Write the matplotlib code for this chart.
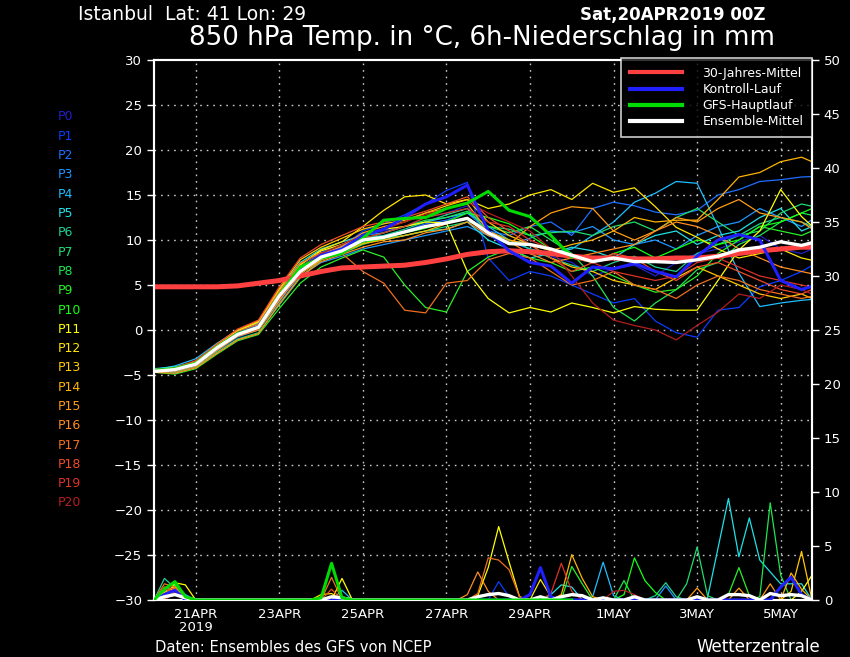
import matplotlib
matplotlib.use("Agg")
import matplotlib.pyplot as plt
from matplotlib.lines import Line2D

# ---------------- data ----------------
HOURS_T = list(range(0, 385, 12))      # temperature every 12h
HOURS_P = list(range(0, 385, 6))       # precipitation every 6h
HOURS_GFS = list(range(0, 241, 12))

TICK_HOURS = [24, 72, 120, 168, 216, 264, 312, 360]
TICK_LABELS = ["21APR\n2019", "23APR", "25APR", "27APR", "29APR", "1MAY", "3MAY", "5MAY"]

MEMBER_NAMES = ["P%d" % i for i in range(21)]
MEMBER_COLORS = ["#2020c8", "#0a3cff", "#1e6eff", "#1e96ff", "#1ebeff", "#1ee1e6",
                 "#1ed296", "#1edc6e", "#1ee650", "#28f028", "#14ff14", "#ffff00",
                 "#ffe600", "#ffc800", "#ffb400", "#ff9b14", "#ff8c1e", "#f06e1e",
                 "#f04b28", "#dc3228", "#b41e1e"]

P0_T = [-4.5, -4.6, -3.9, -2.2, -0.4, 0.5, 3.5, 6.8, 8.5, 9.5, 10.8, 11.0, 11.5, 12.5, 13.0, 13.8, 11.0, 9.8, 9.0, 8.2, 7.5, 6.0, 6.8, 7.2, 6.0, 7.5, 8.5, 9.0, 9.8, 10.5, 9.0, 8.5, 9.5]
P1_T = [-4.4, -4.8, -4.0, -2.4, -0.8, 0.0, 3.0, 6.2, 8.0, 9.2, 11.0, 11.8, 12.8, 14.0, 15.5, 16.4, 8.0, 5.5, 6.5, 6.0, 5.0, 4.0, 3.0, 3.5, 1.0, -0.3, -0.8, 2.2, 2.5, 4.8, 5.5, 6.5, 7.8]
P2_T = [-4.6, -4.2, -3.5, -1.8, -0.2, 0.8, 4.2, 7.0, 8.6, 9.5, 10.2, 10.5, 11.0, 11.8, 12.2, 13.0, 11.0, 10.5, 11.5, 12.0, 10.5, 13.5, 14.2, 13.8, 13.1, 12.8, 13.3, 15.0, 15.6, 16.5, 16.7, 17.0, 17.1]
P3_T = [-4.7, -4.5, -4.0, -2.3, -0.6, 0.2, 3.6, 6.0, 7.5, 8.2, 9.0, 9.5, 10.0, 10.5, 11.0, 11.5, 10.5, 9.5, 10.2, 11.0, 10.8, 11.5, 10.0, 9.5, 10.0, 9.0, 10.5, 11.5, 12.0, 13.5, 12.5, 11.5, 13.0]
P4_T = [-4.4, -4.0, -3.2, -1.5, 0.0, 0.8, 4.0, 6.8, 8.4, 9.2, 10.5, 10.8, 11.5, 12.0, 12.5, 13.0, 11.5, 10.0, 9.0, 8.5, 9.0, 10.5, 12.0, 14.2, 15.2, 16.5, 16.3, 11.5, 6.3, 2.6, 3.0, 3.3, 3.5]
P5_T = [-4.3, -4.1, -3.6, -1.9, -0.3, 0.6, 4.5, 7.5, 9.0, 9.8, 10.5, 10.0, 10.5, 11.0, 11.2, 12.0, 10.0, 9.0, 8.0, 8.5, 9.2, 8.8, 8.0, 9.5, 10.5, 11.0, 9.5, 10.5, 11.0, 12.5, 13.5, 11.0, 12.0]
P6_T = [-4.5, -4.5, -3.9, -2.1, -0.7, 0.0, 3.2, 6.4, 8.2, 9.0, 10.0, 10.5, 11.2, 12.0, 12.8, 13.5, 10.8, 10.0, 9.0, 8.0, 7.2, 6.5, 7.5, 8.2, 7.0, 6.5, 8.5, 9.5, 10.5, 11.8, 12.5, 12.0, 11.0]
P7_T = [-4.6, -4.7, -4.1, -2.5, -1.0, -0.3, 2.8, 5.8, 7.8, 8.5, 9.5, 10.2, 10.5, 11.0, 11.5, 12.0, 11.5, 11.2, 10.5, 10.8, 11.0, 10.5, 11.5, 12.0, 11.0, 12.5, 13.5, 12.0, 10.5, 11.0, 13.0, 14.0, 13.5]
P8_T = [-4.4, -4.3, -3.7, -1.8, -0.4, 0.5, 3.9, 6.7, 8.3, 9.0, 10.0, 10.8, 11.5, 12.2, 12.5, 13.2, 11.5, 10.8, 11.5, 10.0, 8.5, 6.0, 2.5, 1.0, 3.0, 4.5, 6.7, 7.5, 9.5, 10.5, 12.0, 13.0, 12.5]
P9_T = [-4.7, -4.9, -4.3, -2.7, -1.2, -0.5, 2.4, 5.2, 7.0, 8.0, 8.9, 8.1, 5.0, 2.5, 2.0, 6.5, 8.1, 9.0, 8.0, 7.5, 6.5, 7.0, 6.0, 5.0, 4.2, 4.5, 6.0, 8.5, 10.0, 11.5, 11.0, 10.5, 11.5]
P10_T = [-4.5, -4.4, -3.8, -2.0, -0.5, 0.4, 3.7, 6.6, 8.0, 8.7, 9.7, 10.2, 10.8, 11.3, 12.0, 13.0, 12.5, 11.8, 10.5, 9.0, 8.0, 7.5, 8.5, 9.2, 8.0, 9.0, 10.0, 9.5, 10.0, 11.5, 12.0, 13.0, 14.0]
P11_T = [-4.6, -4.4, -3.6, -1.7, -0.1, 0.9, 4.4, 7.3, 8.8, 9.5, 10.5, 11.2, 11.5, 12.0, 11.9, 6.5, 3.5, 1.9, 2.5, 2.0, 3.0, 2.5, 1.9, 2.6, 2.3, 2.2, 2.2, 5.5, 8.9, 11.0, 15.6, 12.6, 10.5]
P12_T = [-4.5, -4.3, -3.7, -1.9, -0.3, 0.6, 4.1, 7.2, 8.9, 9.8, 11.5, 13.3, 14.8, 15.0, 14.0, 14.5, 13.5, 14.0, 15.0, 15.6, 14.5, 16.3, 15.3, 15.8, 13.7, 11.4, 10.3, 9.0, 8.0, 8.5, 9.0, 8.0, 7.5]
P13_T = [-4.4, -4.2, -3.5, -1.6, 0.0, 1.0, 4.6, 7.8, 9.2, 10.2, 11.2, 11.8, 12.2, 13.0, 13.8, 14.5, 12.0, 10.5, 9.5, 8.0, 7.0, 6.5, 5.5, 5.0, 4.5, 5.8, 7.0, 6.0, 5.0, 4.0, 3.5, 4.0, 3.0]
P14_T = [-4.6, -4.5, -3.9, -2.2, -0.6, 0.2, 3.4, 6.2, 7.8, 8.6, 9.6, 10.0, 10.5, 11.0, 11.8, 12.5, 11.0, 10.0, 9.5, 8.8, 9.5, 10.0, 11.0, 12.5, 12.0, 12.2, 12.2, 14.5, 17.0, 17.5, 18.7, 19.2, 18.2]
P15_T = [-4.5, -4.6, -4.0, -2.3, -0.7, 0.0, 3.3, 6.5, 8.4, 9.3, 10.8, 11.5, 12.0, 13.0, 13.5, 14.0, 11.0, 9.5, 11.5, 13.0, 13.7, 13.5, 11.0, 10.0, 11.0, 12.5, 12.0, 13.5, 14.5, 13.0, 12.5, 12.0, 10.5]
P16_T = [-4.7, -4.8, -4.2, -2.6, -1.1, -0.4, 2.9, 5.9, 7.6, 8.4, 9.2, 9.8, 10.0, 10.8, 11.2, 12.0, 10.5, 9.8, 8.5, 7.5, 8.0, 8.5, 9.0, 9.5, 11.0, 12.0, 11.5, 10.5, 9.0, 8.0, 7.0, 6.5, 6.0]
P17_T = [-4.4, -4.3, -3.6, -1.8, -0.2, 0.7, 4.3, 7.4, 8.6, 8.5, 6.5, 5.2, 2.2, 1.9, 5.2, 5.5, 7.8, 8.5, 8.0, 6.5, 5.0, 5.5, 6.5, 5.0, 4.5, 3.5, 5.0, 6.0, 5.5, 4.5, 4.0, 3.5, 4.0]
P18_T = [-4.5, -4.2, -3.4, -1.6, 0.1, 1.1, 4.8, 8.0, 9.5, 10.5, 11.5, 12.0, 12.5, 13.2, 14.0, 14.8, 12.5, 11.0, 9.5, 8.0, 6.5, 7.5, 8.5, 8.0, 6.5, 5.5, 7.0, 7.5, 6.5, 5.5, 4.5, 4.0, 5.0]
P19_T = [-4.6, -4.4, -3.8, -2.0, -0.6, 0.1, 3.5, 6.3, 8.0, 9.0, 10.2, 10.8, 11.5, 12.5, 13.0, 13.5, 12.0, 11.5, 10.0, 9.0, 8.0, 7.5, 6.5, 6.0, 5.5, 6.0, 7.5, 8.0, 7.0, 6.0, 5.5, 5.0, 4.5]
P20_T = [-4.5, -4.5, -3.9, -2.1, -0.5, 0.3, 3.9, 6.9, 8.5, 9.5, 10.5, 11.2, 12.0, 12.8, 13.5, 14.2, 13.0, 12.0, 11.0, 9.0, 6.0, 3.0, 1.1, 0.5, 0.0, -1.1, 0.5, 2.0, 4.0, 3.5, 5.0, 4.5, 3.5]

CONTROL_T = [-4.5, -4.4, -3.8, -2.0, -0.4, 0.4, 3.8, 6.7, 8.3, 9.0, 10.5, 11.2, 12.5, 14.0, 14.8, 16.1, 11.0, 8.8, 7.5, 7.1, 5.2, 7.0, 6.8, 7.4, 6.5, 5.9, 8.2, 10.0, 10.6, 10.0, 5.5, 4.5, 5.2]
GFS_T = [-4.5, -4.3, -3.7, -1.9, -0.4, 0.3, 3.9, 7.0, 8.0, 8.5, 10.2, 12.2, 12.4, 12.5, 13.5, 14.1, 15.4, 13.3, 12.6, 10.5, 8.1]
MEAN_T = [-4.6, -4.4, -3.8, -2.0, -0.5, 0.3, 3.8, 6.5, 8.1, 8.8, 10.0, 10.3, 10.9, 11.5, 11.9, 12.4, 10.8, 9.6, 9.5, 9.0, 8.3, 7.6, 8.0, 7.6, 7.6, 7.5, 7.8, 8.2, 8.9, 9.2, 9.8, 9.4, 10.0]
CLIM_T = [4.8, 4.8, 4.8, 4.8, 4.9, 5.2, 5.5, 6.0, 6.5, 6.9, 7.0, 7.1, 7.2, 7.5, 7.9, 8.4, 8.7, 8.8, 8.7, 8.5, 8.2, 8.0, 8.0, 7.9, 7.9, 8.0, 8.0, 8.2, 8.5, 8.8, 9.0, 9.2, 9.2]

# 6h precipitation (mm), non-zero values by forecast hour
P0_RR = {6: 0.6, 12: 1.0, 18: 0.3}
P1_RR = {6: 0.4, 12: 0.8, 198: 1.7, 204: 0.3}
P2_RR = {12: 0.7, 18: 0.4}
P3_RR = {6: 0.5, 12: 1.2, 294: 1.3}
P4_RR = {12: 1.5, 18: 0.5, 108: 0.9, 252: 0.3, 258: 3.5, 264: 0.4}
P5_RR = {12: 0.9, 228: 0.5, 234: 1.4, 240: 1.2, 318: 0.2, 324: 4.8, 330: 9.4, 336: 4.0, 342: 7.6, 348: 3.7, 354: 2.6, 360: 1.5, 366: 1.5, 372: 1.5}
P6_RR = {6: 2.0, 12: 1.1, 288: 0.4, 294: 1.6, 300: 0.3}
P7_RR = {6: 0.8, 12: 1.3, 306: 1.5, 312: 4.9, 318: 0.4}
P8_RR = {12: 1.0, 270: 1.8, 348: 0.3, 354: 9.0, 360: 2.3}
P9_RR = {6: 1.2, 12: 0.9, 240: 3.1, 246: 1.5, 330: 0.5, 336: 3.0, 342: 0.4}
P10_RR = {12: 1.4, 270: 0.5, 276: 3.9, 282: 1.8, 288: 0.7}
P11_RR = {12: 1.6, 18: 1.4, 108: 2.0, 186: 0.4, 192: 3.0, 198: 6.8, 204: 3.5, 210: 0.3, 372: 0.8, 378: 2.3}
P12_RR = {12: 1.1, 96: 0.5, 102: 0.6, 222: 1.9, 228: 0.3}
P13_RR = {6: 0.7, 12: 1.2, 366: 0.8, 372: 4.5}
P14_RR = {12: 0.9, 234: 0.5, 240: 4.2, 246: 2.0, 252: 0.3, 366: 2.5, 372: 1.0}
P15_RR = {6: 1.0, 12: 0.8, 312: 1.1, 336: 1.1, 354: 1.5}
P16_RR = {12: 1.2, 180: 0.5, 186: 2.6, 192: 0.8}
P17_RR = {6: 1.5, 12: 1.2, 102: 2.1, 186: 0.6, 192: 3.9, 198: 3.7, 204: 2.8, 210: 0.3}
P18_RR = {6: 1.2, 12: 1.0, 102: 1.0}
P19_RR = {6: 1.0, 12: 0.8, 228: 0.6, 234: 3.4, 240: 0.8}
P20_RR = {12: 0.7, 264: 0.8, 270: 0.9, 276: 0.5}
CONTROL_RR = {6: 0.5, 12: 0.9, 216: 0.5, 222: 3.0, 228: 0.3, 360: 1.2, 366: 2.1, 372: 0.5}
GFS_RR = {6: 1.0, 12: 1.7, 18: 0.3, 96: 0.2, 102: 3.4, 108: 0.2}
MEAN_RR = {6: 0.3, 12: 0.5, 18: 0.2, 102: 0.3, 108: 0.2, 186: 0.3, 192: 0.5, 198: 0.6, 204: 0.4,
           222: 0.3, 234: 0.3, 240: 0.5, 246: 0.4, 258: 0.2, 276: 0.3, 312: 0.3, 330: 0.5,
           336: 0.5, 342: 0.4, 354: 0.6, 360: 0.4, 366: 0.5, 372: 0.4}

MEMBERS_T = [P0_T, P1_T, P2_T, P3_T, P4_T, P5_T, P6_T, P7_T, P8_T, P9_T, P10_T,
             P11_T, P12_T, P13_T, P14_T, P15_T, P16_T, P17_T, P18_T, P19_T, P20_T]
MEMBERS_RR = [P0_RR, P1_RR, P2_RR, P3_RR, P4_RR, P5_RR, P6_RR, P7_RR, P8_RR, P9_RR, P10_RR,
              P11_RR, P12_RR, P13_RR, P14_RR, P15_RR, P16_RR, P17_RR, P18_RR, P19_RR, P20_RR]


def expand(events, hours):
    return [events.get(h, 0.0) for h in hours]


# ---------------- figure ----------------
plt.rcParams['font.family'] = ['DejaVu Sans']
fig = plt.figure(figsize=(8.5, 6.57), dpi=100, facecolor='black')
W, H = 850, 657
L, R, T, B = 154, 812, 60, 600
ax = fig.add_axes([L / W, 1 - B / H, (R - L) / W, (B - T) / H], facecolor='black')
ax2 = ax.twinx()

ax.set_xlim(0, 378)
ax.set_ylim(-30, 30)
ax2.set_ylim(0, 50)

for a in (ax, ax2):
    for s in a.spines.values():
        s.set_color('white')
        s.set_linewidth(1.5)

ax.set_yticks(range(-30, 31, 5))
ax2.set_yticks(range(0, 51, 5))
ax.set_xticks(TICK_HOURS)
ax.set_xticklabels(TICK_LABELS)
ax.tick_params(axis='y', colors='white', labelcolor='white', labelsize=9.5, length=5, width=1, direction='out')
ax2.tick_params(axis='y', colors='white', labelcolor='white', labelsize=9.5, length=5, width=1, direction='out')
ax.tick_params(axis='x', colors='white', labelcolor='white', labelsize=9.5, length=0, pad=6)
for lbl in ax.get_xticklabels():
    lbl.set_linespacing(0.95)

# grid
for h in TICK_HOURS:
    ax.axvline(h, color='#c8c8c8', lw=1.0, ls=(0, (1.2, 3.5)), zorder=0.5)
for v in range(-25, 30, 5):
    ax.axhline(v, color='#c8c8c8', lw=1.0, ls=(0, (1.2, 3.5)), zorder=0.5)

# ensemble members
for vals, rr, col in zip(MEMBERS_T, MEMBERS_RR, MEMBER_COLORS):
    ax.plot(HOURS_T, vals, color=col, lw=0.9, zorder=2)
    ax2.plot(HOURS_P, expand(rr, HOURS_P), color=col, lw=0.9, zorder=2)

ax.plot(HOURS_T, CLIM_T, color='#ff4040', lw=3.6, zorder=3, solid_capstyle='butt')
ax.plot(HOURS_T, CONTROL_T, color='#2020ff', lw=2.2, zorder=4)
ax2.plot(HOURS_P, expand(CONTROL_RR, HOURS_P), color='#2020ff', lw=2.2, zorder=4)
ax.plot(HOURS_GFS, GFS_T, color='#00dc00', lw=2.2, zorder=4)
ax.plot(HOURS_T, MEAN_T, color='white', lw=2.4, zorder=5)
ax2.plot(HOURS_P, expand(MEAN_RR, HOURS_P), color='white', lw=2.4, zorder=5)
ax2.plot([h for h in HOURS_P if h <= 240], expand(GFS_RR, [h for h in HOURS_P if h <= 240]),
         color='#00dc00', lw=2.2, zorder=6)

# legend
handles = [Line2D([], [], color='#ff4040', lw=3),
           Line2D([], [], color='#2020ff', lw=3),
           Line2D([], [], color='#00dc00', lw=3),
           Line2D([], [], color='white', lw=3)]
labels = ["30-Jahres-Mittel", "Kontroll-Lauf", "GFS-Hauptlauf", "Ensemble-Mittel"]
leg = ax2.legend(handles, labels, loc='upper right', bbox_to_anchor=(R / W, 1 - 58 / H),
                 bbox_transform=fig.transFigure, frameon=True, fancybox=False,
                 facecolor='black', edgecolor='white', fontsize=9, labelcolor='white',
                 handlelength=4.2, handletextpad=1.6, borderpad=0.7, labelspacing=0.25,
                 borderaxespad=0)
leg.get_frame().set_linewidth(1.2)
leg.set_zorder(10)

# member labels
for i, (name, col) in enumerate(zip(MEMBER_NAMES, MEMBER_COLORS)):
    fig.text(58 / W, 1 - (117 + i * 19.3) / H, name, color=col, fontsize=9, va='center', ha='left')

# titles
fig.text(78 / W, 1 - 15 / H, "Istanbul  Lat: 41 Lon: 29", color='white', fontsize=13.5, va='center', ha='left')
fig.text(765 / W, 1 - 15 / H, "Sat,20APR2019 00Z", color='white', fontsize=12, fontweight='bold',
         va='center', ha='right')
fig.text(482 / W, 1 - 38 / H, "850 hPa Temp. in °C, 6h-Niederschlag in mm", color='white',
         fontsize=18.8, va='center', ha='center')
fig.text(155 / W, 1 - 647 / H, "Daten: Ensembles des GFS von NCEP", color='white', fontsize=10.6,
         va='center', ha='left')
fig.text(820 / W, 1 - 647 / H, "Wetterzentrale", color='white', fontsize=12, va='center', ha='right')

fig.savefig("out.png", dpi=100, facecolor='black')
